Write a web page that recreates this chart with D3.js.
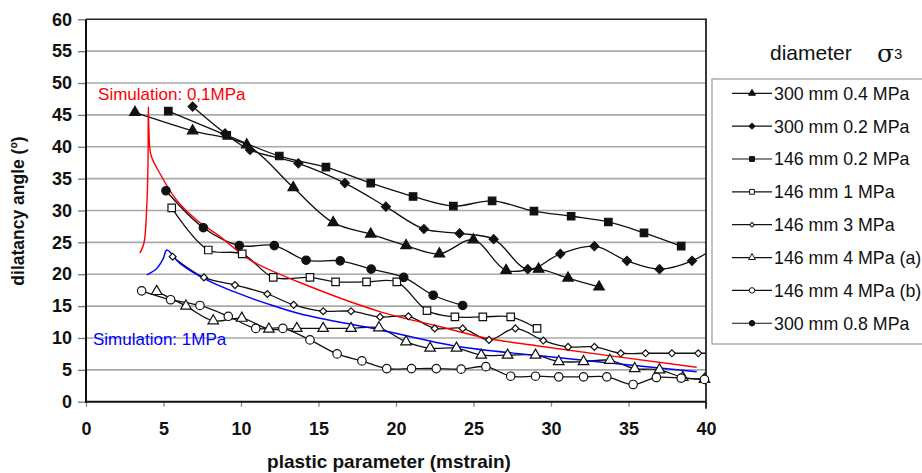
<!DOCTYPE html>
<html><head><meta charset="utf-8">
<script src="https://cdn.jsdelivr.net/npm/d3@7/dist/d3.min.js"></script>
<style>body{margin:0;background:#fff}svg{display:block;font-family:Arial,"Liberation Sans",sans-serif}</style>
</head><body><svg id="c" width="922" height="473"></svg>
<script>
// ---------- data ----------
const xTicks = [0,5,10,15,20,25,30,35,40];
const yTicks = [0,5,10,15,20,25,30,35,40,45,50,55,60];

const s1Name = "300 mm 0.4 MPa";
const s1X = [3.16,6.88,10.37,13.37,15.95,18.37,20.65,22.8,24.99,27.1,29.2,31.1,33.1];
const s1Y = [45.4,42.5,40.3,33.6,28.1,26.3,24.5,23.2,25.4,20.6,20.8,19.4,18.0];

const s2Name = "300 mm 0.2 MPa";
const s2X = [6.88,8.97,10.58,13.7,16.7,19.35,21.8,24.1,26.3,28.5,30.6,32.8,34.9,37.0,39.1,41.1];
const s2Y = [46.3,42.1,39.5,37.4,34.3,30.6,27.1,26.4,25.5,20.8,23.2,24.4,22.1,20.8,22.1,25.0];

const s3Name = "146 mm 0.2 MPa";
const s3X = [5.31,9.08,12.47,15.48,18.37,21.1,23.7,26.2,28.9,31.3,33.7,36.0,38.4];
const s3Y = [45.6,41.8,38.55,36.8,34.3,32.2,30.7,31.5,29.9,29.1,28.2,26.5,24.4];

const s4Name = "146 mm 1 MPa";
const s4X = [5.53,7.89,10.08,12.08,14.45,16.1,18.1,20.05,22.0,23.8,25.6,27.4,29.1];
const s4Y = [30.4,23.8,23.2,19.5,19.5,18.8,18.8,18.8,14.3,13.3,13.3,13.3,11.5];

const s5Name = "146 mm 3 MPa";
const s5X = [5.59,7.61,9.61,11.7,13.4,15.3,17.1,18.97,20.8,22.5,24.3,26.0,27.7,29.5,31.1,32.8,34.5,36.1,37.8,39.5,41.2];
const s5Y = [22.75,19.5,18.3,16.9,15.2,14.2,14.2,13.3,13.4,11.5,11.5,9.7,11.5,9.6,8.6,8.6,7.6,7.6,7.6,7.6,7.6];

const s6Name = "146 mm 4 MPa (a)";
const s6X = [4.56,6.45,8.21,10.05,11.8,13.6,15.3,17.1,18.9,20.65,22.2,23.9,25.5,27.2,29.0,30.5,32.1,33.8,35.4,37.0,38.5,39.9];
const s6Y = [17.3,15.0,12.7,13.1,11.4,11.5,11.5,11.5,11.6,9.4,8.4,8.4,7.3,7.3,7.3,6.3,6.3,6.5,5.2,5.0,3.8,3.5];

const s7Name = "146 mm 4 MPa (b)";
const s7X = [3.59,5.46,7.35,9.18,10.95,12.7,14.45,16.2,17.8,19.4,21.0,22.6,24.2,25.8,27.4,29.0,30.5,32.1,33.6,35.3,36.8,38.4,39.9];
const s7Y = [17.4,16.0,15.1,13.4,11.5,11.5,9.7,7.5,6.4,5.2,5.2,5.2,5.1,5.5,4.0,4.0,3.9,3.9,3.9,2.7,3.8,3.7,3.5];

const s8Name = "300 mm 0.8 MPa";
const s8X = [5.16,7.57,9.89,12.15,14.2,16.4,18.4,20.5,22.4,24.3];
const s8Y = [33.1,27.3,24.5,24.5,22.2,22.1,20.8,19.5,16.7,15.1];

const simRedLabel = "Simulation: 0,1MPa";
const simRedX = [3.48,3.74,3.92,4.0,4.02,4.06,4.19,4.77,5.85,7.14,8.65,10.6,13.8,19.0,22.8,25.85,29.3,39.4];
const simRedY = [23.3,24.9,30.6,37.4,46.3,42.6,38.7,35.8,31.6,28.5,25.9,22.2,18.7,14.1,11.8,9.95,8.7,5.4];

const simBlueLabel = "Simulation: 1MPa";
const simBlueX = [3.92,4.56,4.99,5.21,6.06,7.79,9.5,11.66,13.8,19.0,23.9,29.3,39.4];
const simBlueY = [19.9,20.9,22.5,23.8,21.7,19.1,17.3,15.4,13.8,11.25,8.7,7.2,4.7];

const xLabel = "plastic parameter (mstrain)";
const yLabel = "dilatancy angle (º)";
const legendTitle = "diameter";

// ---------- build ----------
const series = [
  {name:s1Name, xs:s1X, ys:s1Y, shape:"triangle", fill:true},
  {name:s2Name, xs:s2X, ys:s2Y, shape:"diamond", fill:true},
  {name:s3Name, xs:s3X, ys:s3Y, shape:"square", fill:true},
  {name:s4Name, xs:s4X, ys:s4Y, shape:"square", fill:false},
  {name:s5Name, xs:s5X, ys:s5Y, shape:"diamondSmall", fill:false},
  {name:s6Name, xs:s6X, ys:s6Y, shape:"triangle", fill:false},
  {name:s7Name, xs:s7X, ys:s7Y, shape:"circle", fill:false},
  {name:s8Name, xs:s8X, ys:s8Y, shape:"circle", fill:true}
];

const L=86, R=706, T=19.3, B=401.7;
const x = d3.scaleLinear().domain([0,40]).range([L,R]);
const y = d3.scaleLinear().domain([0,60]).range([B,T]);
const svg = d3.select("#c");

svg.append("defs").append("clipPath").attr("id","plotclip")
  .append("rect").attr("x",L).attr("y",T-1).attr("width",R-L).attr("height",B-T+1);

// gridlines
svg.append("g").selectAll("line").data(yTicks.filter(v=>v>0 && v<60)).join("line")
  .attr("x1",L).attr("x2",R).attr("y1",d=>y(d)).attr("y2",d=>y(d))
  .attr("stroke","#a8a8a8").attr("stroke-width",1.6);

// axes
const yAxis = svg.append("g").attr("transform",`translate(${L},0)`)
  .call(d3.axisLeft(y).tickValues(yTicks).tickSize(8).tickPadding(6));
yAxis.select(".domain").remove();
yAxis.selectAll(".tick line").attr("stroke","#777").attr("stroke-width",1.3);
yAxis.selectAll(".tick text").attr("font-size",18).attr("font-weight","bold").attr("fill","#111")
  .attr("font-family","Arial, 'Liberation Sans', sans-serif");

const xAxis = svg.append("g").attr("transform",`translate(0,${B})`)
  .call(d3.axisBottom(x).tickValues(xTicks).tickSize(5).tickPadding(16));
xAxis.select(".domain").remove();
xAxis.selectAll(".tick line").attr("stroke","#888").attr("stroke-width",1.3);
xAxis.selectAll(".tick text").attr("font-size",18).attr("font-weight","bold").attr("fill","#111")
  .attr("font-family","Arial, 'Liberation Sans', sans-serif");

// frame
svg.append("line").attr("x1",L).attr("x2",L).attr("y1",T).attr("y2",B+1).attr("stroke","#111").attr("stroke-width",2);
svg.append("line").attr("x1",L-1).attr("x2",R).attr("y1",B).attr("y2",B).attr("stroke","#111").attr("stroke-width",2);
svg.append("line").attr("x1",L).attr("x2",R+1).attr("y1",T).attr("y2",T).attr("stroke","#222").attr("stroke-width",1.6);
svg.append("line").attr("x1",R).attr("x2",R).attr("y1",T).attr("y2",B+7).attr("stroke","#222").attr("stroke-width",1.8);

// symbols
function symbolPath(shape, scale){
  const k = scale||1;
  if(shape==="triangle") return d3.symbol(d3.symbolTriangle, 48*k*k)();
  if(shape==="square") return d3.symbol(d3.symbolSquare, 56*k*k)();
  if(shape==="diamond") return d3.symbol(d3.symbolSquare, 40*k*k)();
  if(shape==="diamondSmall") return d3.symbol(d3.symbolSquare, 24*k*k)();
  if(shape==="circle") return d3.symbol(d3.symbolCircle, 56*k*k)();
}
function rot(shape){ return (shape==="diamond"||shape==="diamondSmall") ? " rotate(45)" : ""; }

const lineGen = d3.line().x(d=>x(d[0])).y(d=>y(d[1])).curve(d3.curveCatmullRom.alpha(0.5));
const plot = svg.append("g");
series.forEach(s=>{
  const pts = s.xs.map((v,i)=>[v,s.ys[i]]);
  plot.append("path").attr("d",lineGen(pts)).attr("fill","none").attr("stroke","#111")
    .attr("stroke-width",1.3).attr("clip-path","url(#plotclip)");
});
// simulations
const simLine = d3.line().x(d=>x(d[0])).y(d=>y(d[1])).curve(d3.curveCatmullRom.alpha(0.5));
plot.append("path").attr("d",simLine(simRedX.map((v,i)=>[v,simRedY[i]])))
  .attr("fill","none").attr("stroke","#ff0000").attr("stroke-width",1.4);
plot.append("path").attr("d",simLine(simBlueX.map((v,i)=>[v,simBlueY[i]])))
  .attr("fill","none").attr("stroke","#0000ff").attr("stroke-width",1.4);

series.forEach(s=>{
  const pts = s.xs.map((v,i)=>[v,s.ys[i]]).filter(p=>p[0]<=40);
  plot.append("g").selectAll("path").data(pts).join("path")
    .attr("d",symbolPath(s.shape))
    .attr("transform",d=>`translate(${x(d[0])},${y(d[1])})${rot(s.shape)}`)
    .attr("fill",s.fill?"#111":"#fff").attr("stroke","#111").attr("stroke-width",1.2);
});

// annotations
svg.append("text").attr("x",x(0.78)).attr("y",y(47.3)).text(simRedLabel)
  .attr("font-size",17).attr("fill","#ff0000");
svg.append("text").attr("x",x(0.45)).attr("y",y(8.9)).text(simBlueLabel)
  .attr("font-size",17).attr("fill","#0000ff");

// axis titles
svg.append("text").attr("x",389).attr("y",468).attr("text-anchor","middle")
  .attr("font-size",19).attr("font-weight","bold").attr("fill","#111").text(xLabel);
svg.append("text").attr("transform","translate(24,211) rotate(-90)").attr("text-anchor","middle")
  .attr("font-size",17.5).attr("font-weight","bold").attr("fill","#111").text(yLabel);

// legend
svg.append("text").attr("x",770).attr("y",60).attr("font-size",21).attr("fill","#111").text(legendTitle);
const sig = svg.append("text").attr("x",877).attr("y",62).attr("fill","#111");
sig.append("tspan").attr("font-size",25).attr("font-family","'DejaVu Serif', serif").text("σ");
sig.append("tspan").attr("font-size",15).attr("dy",-3).text("3");

svg.append("rect").attr("x",712).attr("y",79).attr("width",240).attr("height",265)
  .attr("fill","none").attr("stroke","#999").attr("stroke-width",1.2);
const lg = svg.append("g");
series.forEach((s,i)=>{
  const cy = 93.3 + i*32.85;
  const g = lg.append("g").attr("transform",`translate(0,${cy})`);
  g.append("line").attr("x1",732).attr("x2",772).attr("y1",0).attr("y2",0).attr("stroke","#111").attr("stroke-width",1.2);
  g.append("path").attr("d",symbolPath(s.shape,0.65)).attr("transform",`translate(752,0)${rot(s.shape)}`)
    .attr("fill",s.fill?"#111":"#fff").attr("stroke","#111").attr("stroke-width",1);
  g.append("text").attr("x",774).attr("y",0).attr("dy","0.36em").attr("font-size",17.8).attr("fill","#111").text(s.name);
});
</script></body></html>
